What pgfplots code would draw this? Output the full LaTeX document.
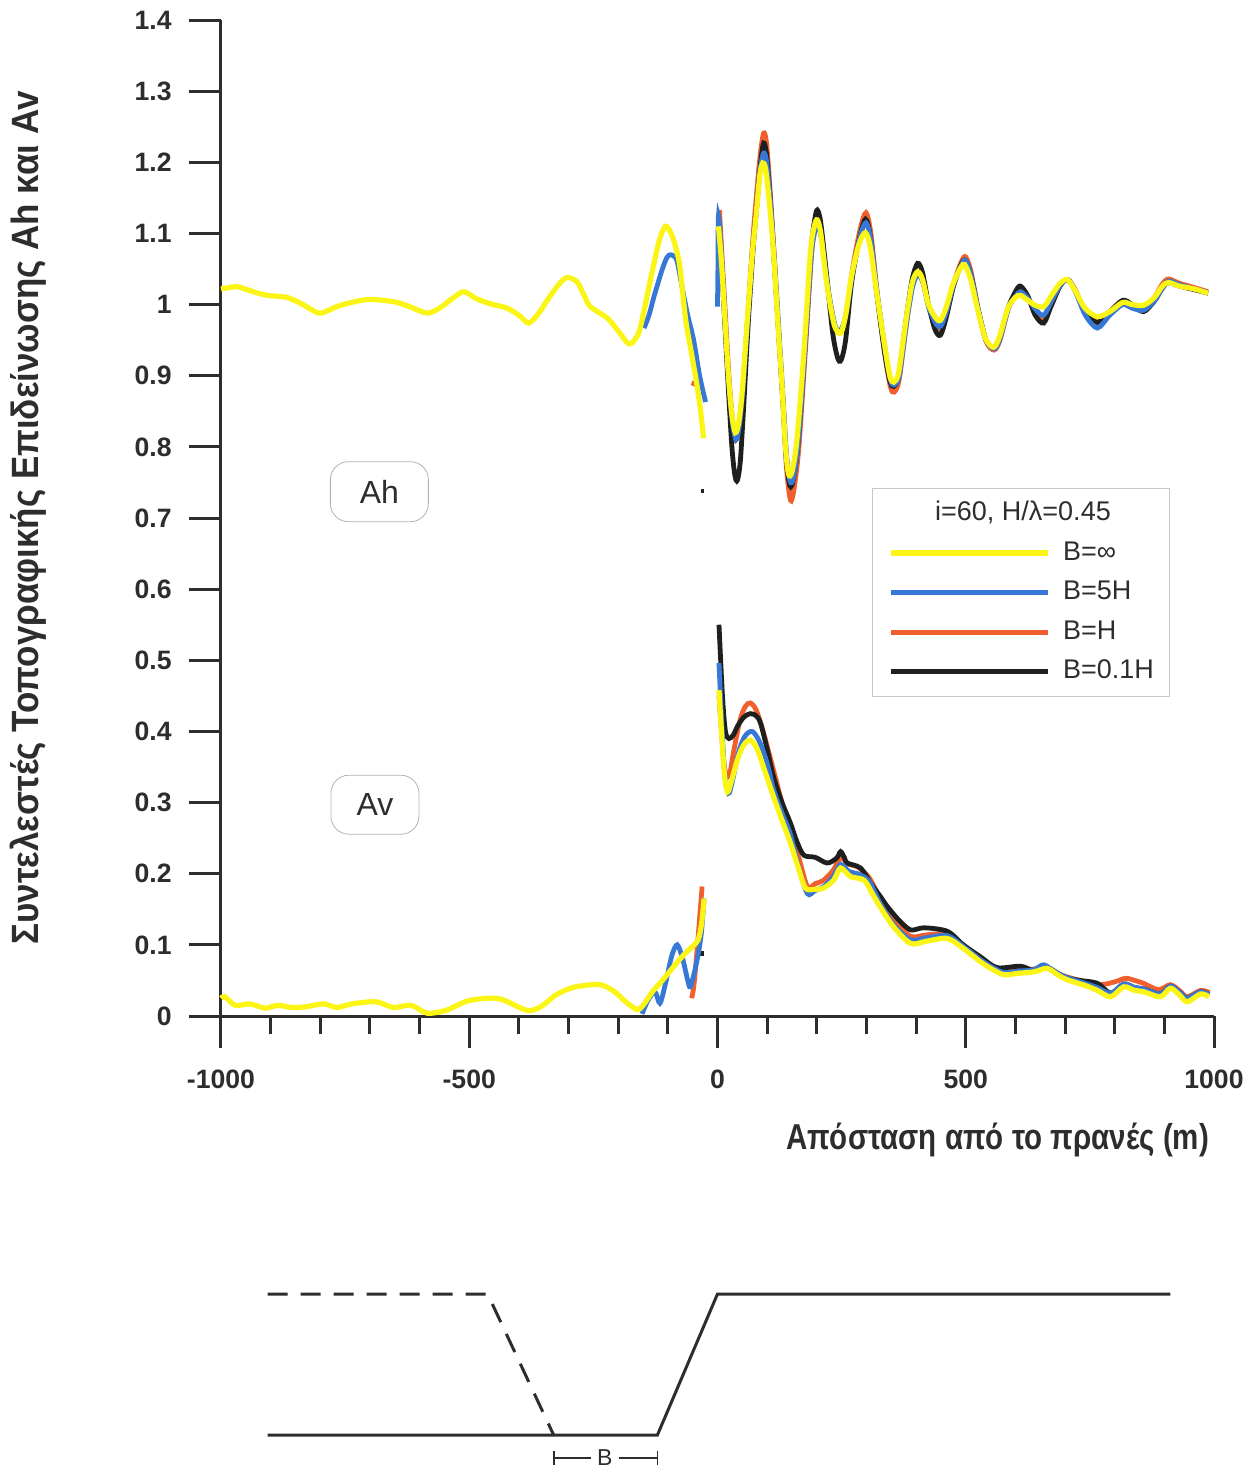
\documentclass[border=0pt]{standalone}
\usepackage{pgfplots}
\pgfplotsset{compat=1.18}
\usepackage{fontspec}
\setmainfont{Liberation Sans}
\newfontfamily\condfont[FakeStretch=0.82]{Liberation Sans}
\newfontfamily\condfontY[FakeStretch=0.92]{Liberation Sans}
\definecolor{cyel}{RGB}{250,245,20}
\definecolor{cblue}{RGB}{55,120,215}
\definecolor{corange}{RGB}{240,95,45}
\definecolor{cblack}{RGB}{30,32,32}
\definecolor{axgray}{RGB}{45,45,45}
\begin{document}
\begin{tikzpicture}
\useasboundingbox (-110.5pt,-226.5pt) rectangle (518pt,508pt);
\begin{axis}[
  scale only axis, width=496.5pt, height=498pt,
  xmin=-1000, xmax=1000, ymin=0, ymax=1.4,
  axis x line=bottom, axis y line=left,
  axis line style={-, line width=1.5pt, color=axgray},
  tick align=outside,
  major tick length=16pt, minor tick length=9pt,
  tick style={line width=1.5pt, color=axgray},
  xtick={-1000,-500,0,500,1000},
  minor xtick={-900,-800,-700,-600,-400,-300,-200,-100,100,200,300,400,600,700,800,900},
  ytick={0,0.1,0.2,0.3,0.4,0.5,0.6,0.7,0.8,0.9,1,1.1,1.2,1.3,1.4},
  /pgf/number format/assume math mode=true,
  /pgf/number format/1000 sep={},
  tick label style={font=\fontsize{13.3}{14}\selectfont\bfseries, color=axgray},
  xticklabel style={anchor=north, inner sep=0pt, yshift=-11pt},
  yticklabel style={anchor=east, inner sep=0pt, xshift=-8.5pt},
  xlabel={Απόσταση από το πρανές (m)},
  xlabel style={at={(axis description cs:1.002,-0.1245)}, anchor=east, font={\fontsize{18}{20}\condfont\bfseries}, text=axgray},
  ylabel={Συντελεστές Τοπογραφικής Επιδείνωσης Ah και Av},
  ylabel style={at={(axis description cs:-0.1944,0.5)}, anchor=center, font={\fontsize{19}{21}\condfontY\bfseries}, text=axgray},
  clip=false,
  legend image code/.code={\draw[#1] (0pt,0pt) -- (78.5pt,0pt); \path (84.5pt,0pt);},
  legend cell align=left,
  legend style={at={(axis cs:312,0.448)}, anchor=south west, draw=black!22, thin, fill=none,
    inner xsep=8pt, inner ysep=6pt, row sep=6.8pt, font=\fontsize{13.5}{15}\selectfont, text=axgray,
    nodes={inner sep=0pt, text height=10pt, text depth=3pt}},
]
\addlegendimage{empty legend}
\addlegendentry{\makebox[0pt][c]{\hspace*{-41pt}i=60, H/λ=0.45}}
\addlegendimage{cyel, line width=2.6pt}
\addlegendentry{B=∞}
\addlegendimage{cblue, line width=2.4pt}
\addlegendentry{B=5H}
\addlegendimage{corange, line width=2.4pt}
\addlegendentry{B=H}
\addlegendimage{cblack, line width=2.4pt}
\addlegendentry{B=0.1H}

% ---------- Ah ----------
\addplot[forget plot, corange, line width=2.4pt, smooth] coordinates {
(4,1.133) (9,1.07) (16,0.985) (23,0.90) (30,0.84) (37,0.81) (44,0.83) (51,0.88) (61,0.985) (71,1.09) (78,1.15) (86,1.21) (93,1.241) (99,1.225) (107,1.15) (115,1.06) (124,0.95) (132,0.86) (139,0.77) (147,0.725) (154,0.74) (164,0.80) (177,0.935) (190,1.075) (197,1.105) (203,1.115) (210,1.095) (222,1.025) (237,0.968) (249,0.962) (260,0.99) (272,1.05) (287,1.105) (299,1.129) (309,1.10) (321,1.02) (336,0.935) (348,0.885) (356,0.877) (366,0.895) (381,0.975) (393,1.03) (404,1.045) (414,1.035) (426,0.995) (441,0.968) (450,0.965) (461,0.985) (476,1.03) (491,1.06) (500,1.067) (511,1.045) (526,0.99) (541,0.948) (557,0.936) (569,0.95) (586,0.995) (601,1.014) (611,1.02) (626,1.008) (641,0.988) (657,0.978) (673,1.0) (691,1.028) (706,1.035) (721,1.02) (741,0.99) (765,0.975) (790,0.99) (816,1.003) (835,0.998) (858,0.995) (880,1.01) (895,1.028) (908,1.036) (930,1.03) (960,1.024) (988,1.018)};
\addplot[forget plot, corange, line width=2.4pt] coordinates {(-52,0.89) (-44,0.888)};
\addplot[forget plot, cblack, line width=2.4pt, smooth] coordinates {
(2,1.114) (8,1.06) (15,0.97) (22,0.88) (29,0.80) (35,0.76) (40,0.753) (46,0.78) (53,0.86) (62,0.975) (72,1.08) (79,1.14) (87,1.20) (93,1.227) (99,1.21) (107,1.14) (115,1.05) (124,0.95) (132,0.86) (139,0.78) (146,0.745) (153,0.755) (163,0.81) (176,0.94) (189,1.08) (196,1.12) (201,1.133) (208,1.115) (220,1.04) (232,0.96) (242,0.925) (249,0.922) (258,0.95) (270,1.03) (285,1.09) (298,1.12) (308,1.095) (320,1.02) (335,0.94) (347,0.893) (355,0.885) (365,0.90) (380,0.98) (392,1.035) (403,1.058) (413,1.045) (425,1.0) (438,0.965) (449,0.957) (460,0.98) (475,1.025) (490,1.055) (500,1.062) (511,1.04) (526,0.99) (541,0.95) (556,0.94) (568,0.953) (585,0.995) (600,1.018) (610,1.026) (625,1.012) (640,0.985) (657,0.974) (672,0.998) (690,1.026) (705,1.035) (720,1.02) (740,0.99) (765,0.975) (790,0.99) (816,1.006) (835,1.0) (858,0.99) (880,1.005) (895,1.022) (908,1.031) (930,1.026) (960,1.021) (988,1.016)};
\addplot[forget plot, cblack, line width=2.4pt] coordinates {(-33,0.738) (-28,0.738)};
\addplot[forget plot, cblue, line width=2.4pt, smooth] coordinates {
(-148,0.967) (-138,0.985) (-128,1.011) (-112,1.048) (-102,1.066) (-95,1.070) (-88,1.068) (-81,1.060) (-70,1.02) (-60,0.985) (-48,0.950) (-36,0.90) (-24,0.863)};
\addplot[forget plot, cblue, line width=2.4pt, smooth] coordinates {
(0,0.997) (1,1.06) (2,1.125) (8,1.07) (15,0.985) (22,0.90) (29,0.84) (37,0.81) (44,0.83) (51,0.88) (61,0.98) (71,1.08) (78,1.13) (86,1.19) (93,1.213) (99,1.20) (107,1.14) (115,1.06) (124,0.96) (132,0.87) (139,0.79) (146,0.752) (153,0.757) (163,0.81) (176,0.935) (189,1.07) (197,1.105) (203,1.11) (210,1.09) (222,1.025) (237,0.97) (249,0.965) (260,0.99) (272,1.045) (287,1.095) (299,1.115) (309,1.09) (321,1.02) (336,0.945) (348,0.895) (356,0.887) (366,0.90) (381,0.975) (393,1.025) (404,1.042) (414,1.03) (426,0.995) (441,0.972) (450,0.97) (461,0.99) (476,1.03) (491,1.055) (500,1.062) (511,1.04) (526,0.99) (541,0.95) (557,0.938) (569,0.952) (586,0.995) (601,1.012) (611,1.018) (626,1.008) (641,0.993) (657,0.985) (673,1.005) (691,1.028) (706,1.035) (721,1.018) (741,0.985) (765,0.967) (790,0.985) (816,1.0) (835,0.995) (858,0.992) (880,1.005) (895,1.022) (908,1.033) (930,1.028) (960,1.022) (988,1.017)};
\addplot[forget plot, cyel, line width=2.6pt, smooth] coordinates {
(-1000,1.022) (-991,1.023) (-967,1.025) (-935,1.018) (-907,1.013) (-867,1.010) (-835,1.0) (-803,0.988) (-780,0.993) (-759,0.999) (-706,1.007) (-652,1.004) (-620,0.997) (-585,0.988) (-560,0.995) (-535,1.008) (-511,1.018) (-485,1.008) (-457,1.001) (-424,0.995) (-400,0.985) (-380,0.974) (-360,0.988) (-343,1.006) (-320,1.028) (-303,1.038) (-283,1.032) (-268,1.012) (-256,0.997) (-222,0.981) (-200,0.963) (-179,0.945) (-165,0.952) (-155,0.969) (-135,1.035) (-118,1.088) (-105,1.110) (-92,1.098) (-81,1.072) (-75,1.049) (-64,0.978) (-52,0.93) (-41,0.885) (-34,0.85) (-28,0.812)};
\addplot[forget plot, cyel, line width=2.6pt, smooth] coordinates {
(2,1.110) (8,1.06) (15,0.98) (22,0.90) (29,0.845) (36,0.82) (43,0.835) (50,0.88) (60,0.978) (70,1.07) (77,1.12) (85,1.18) (91,1.199) (97,1.19) (105,1.14) (113,1.072) (122,0.97) (130,0.885) (137,0.80) (143,0.762) (150,0.765) (160,0.81) (174,0.932) (187,1.072) (195,1.11) (201,1.119) (208,1.10) (220,1.03) (235,0.972) (248,0.96) (258,0.985) (270,1.04) (285,1.085) (298,1.101) (308,1.08) (320,1.02) (335,0.95) (347,0.90) (355,0.891) (365,0.905) (380,0.98) (392,1.03) (403,1.046) (413,1.035) (425,1.0) (440,0.981) (449,0.978) (460,0.995) (475,1.03) (490,1.052) (498,1.056) (510,1.035) (525,0.99) (540,0.952) (556,0.940) (568,0.955) (585,0.995) (600,1.01) (610,1.013) (625,1.006) (640,0.999) (657,0.997) (672,1.012) (690,1.03) (705,1.035) (720,1.02) (740,0.995) (765,0.983) (790,0.99) (816,1.003) (835,1.0) (858,0.999) (880,1.01) (895,1.025) (908,1.031) (930,1.026) (960,1.022) (988,1.016)};

% ---------- Av ----------
\addplot[forget plot, corange, line width=2.4pt, smooth] coordinates {
(-52,0.025) (-48,0.04) (-44,0.069) (-38,0.12) (-31,0.182)};
\addplot[forget plot, corange, line width=2.4pt, smooth] coordinates {
(3,0.45) (8,0.40) (14,0.35) (23,0.336) (32,0.37) (45,0.415) (56,0.435) (66,0.440) (78,0.43) (92,0.40) (113,0.345) (130,0.30) (147,0.265) (163,0.225) (181,0.182) (197,0.186) (214,0.191) (233,0.205) (248,0.222) (265,0.213) (281,0.21) (305,0.195) (328,0.165) (355,0.135) (389,0.112) (420,0.114) (463,0.115) (495,0.1) (530,0.08) (555,0.068) (577,0.062) (605,0.064) (637,0.066) (664,0.068) (685,0.06) (704,0.055) (740,0.048) (771,0.044) (800,0.048) (822,0.053) (840,0.05) (858,0.046) (888,0.037) (912,0.044) (930,0.036) (946,0.027) (973,0.036) (991,0.033)};
\addplot[forget plot, cblack, line width=2.4pt] coordinates {(-39,0.088) (-27,0.088)};
\addplot[forget plot, cblack, line width=2.4pt, smooth] coordinates {
(3,0.550) (10,0.45) (16,0.40) (23,0.390) (32,0.395) (40,0.407) (53,0.420) (66,0.425) (78,0.422) (87,0.411) (100,0.375) (113,0.336) (130,0.30) (147,0.271) (160,0.245) (174,0.226) (197,0.223) (221,0.215) (240,0.222) (248,0.231) (256,0.222) (261,0.215) (288,0.208) (310,0.185) (328,0.168) (342,0.154) (365,0.135) (389,0.121) (416,0.124) (463,0.119) (495,0.1) (530,0.083) (563,0.068) (610,0.070) (637,0.064) (665,0.068) (697,0.055) (730,0.05) (765,0.046) (792,0.032) (818,0.045) (840,0.04) (859,0.038) (892,0.031) (912,0.042) (930,0.034) (946,0.025) (973,0.034) (990,0.03)};
\addplot[forget plot, cblue, line width=2.4pt, smooth] coordinates {
(-152,0.003) (-140,0.022) (-126,0.034) (-116,0.018) (-105,0.045) (-92,0.085) (-81,0.100) (-70,0.08) (-60,0.05) (-55,0.041) (-47,0.06) (-38,0.09) (-32,0.12) (-27,0.165)};
\addplot[forget plot, cblue, line width=2.4pt, smooth] coordinates {
(3,0.496) (8,0.42) (14,0.345) (22,0.313) (30,0.33) (42,0.37) (55,0.393) (70,0.400) (85,0.385) (100,0.355) (113,0.318) (130,0.285) (147,0.255) (163,0.21) (181,0.172) (196,0.176) (214,0.182) (233,0.196) (248,0.213) (265,0.203) (282,0.200) (305,0.19) (328,0.158) (355,0.128) (389,0.107) (420,0.11) (463,0.113) (495,0.098) (530,0.079) (555,0.068) (577,0.061) (605,0.063) (637,0.065) (657,0.072) (680,0.062) (704,0.054) (740,0.046) (765,0.04) (792,0.032) (818,0.045) (840,0.04) (859,0.038) (892,0.031) (912,0.042) (930,0.034) (946,0.025) (973,0.034) (990,0.03)};
\addplot[forget plot, cyel, line width=2.6pt, smooth] coordinates {
(-1000,0.025) (-992,0.027) (-971,0.015) (-942,0.017) (-911,0.011) (-886,0.015) (-858,0.012) (-829,0.013) (-794,0.017) (-766,0.012) (-737,0.017) (-688,0.020) (-653,0.012) (-617,0.015) (-585,0.004) (-547,0.008) (-504,0.021) (-462,0.025) (-433,0.023) (-384,0.008) (-356,0.013) (-327,0.029) (-300,0.038) (-278,0.042) (-236,0.044) (-207,0.034) (-185,0.02) (-162,0.009) (-150,0.015) (-130,0.035) (-111,0.05) (-90,0.068) (-68,0.086) (-50,0.098) (-39,0.107) (-32,0.13) (-27,0.165)};
\addplot[forget plot, cyel, line width=2.6pt, smooth] coordinates {
(3,0.458) (8,0.40) (14,0.34) (20,0.315) (28,0.33) (40,0.36) (52,0.38) (66,0.388) (80,0.375) (95,0.345) (113,0.308) (130,0.275) (147,0.243) (162,0.21) (177,0.180) (194,0.178) (214,0.180) (234,0.191) (248,0.208) (268,0.196) (295,0.191) (312,0.172) (328,0.153) (355,0.125) (389,0.102) (420,0.105) (463,0.109) (495,0.095) (530,0.076) (555,0.065) (577,0.058) (605,0.06) (637,0.062) (664,0.067) (685,0.058) (704,0.051) (740,0.043) (765,0.036) (792,0.027) (818,0.041) (840,0.036) (859,0.034) (892,0.027) (912,0.039) (930,0.03) (946,0.020) (973,0.031) (990,0.027)};

\node[draw=black!30, thin, rounded corners=9pt, minimum width=49pt, minimum height=30pt, font=\fontsize{16}{16}\selectfont, text=axgray] at (axis cs:-681,0.737) {Ah};
\node[draw=black!30, thin, rounded corners=9pt, minimum width=44pt, minimum height=29.5pt, font=\fontsize{16}{16}\selectfont, text=axgray] at (axis cs:-690,0.297) {Av};
\end{axis}

% ---------- schematic ----------
\begin{axis}[at={(0pt,-209.5pt)}, anchor=south west, scale only axis, width=496.5pt, height=70.5pt,
  xmin=-1000, xmax=1000, ymin=0, ymax=1, axis lines=none, clip=false]
\addplot[line width=1.5pt, color=axgray, dash pattern=on 10pt off 6.5pt] coordinates {(-906,1) (-463,1) (-330,0)};
\addplot[line width=1.5pt, color=axgray] coordinates {(-906,0) (-121,0) (0,1) (912,1)};
\addplot[line width=0.9pt, color=axgray] coordinates {(-330,-0.115) (-330,-0.21)};
\addplot[line width=0.9pt, color=axgray] coordinates {(-330,-0.163) (-255,-0.163)};
\addplot[line width=0.9pt, color=axgray] coordinates {(-199,-0.163) (-121,-0.163)};
\addplot[line width=0.9pt, color=axgray] coordinates {(-121,-0.115) (-121,-0.21)};
\node[font=\fontsize{11.5}{12}\selectfont, text=axgray] at (axis cs:-227,-0.163) {B};
\end{axis}
\end{tikzpicture}
\end{document}
